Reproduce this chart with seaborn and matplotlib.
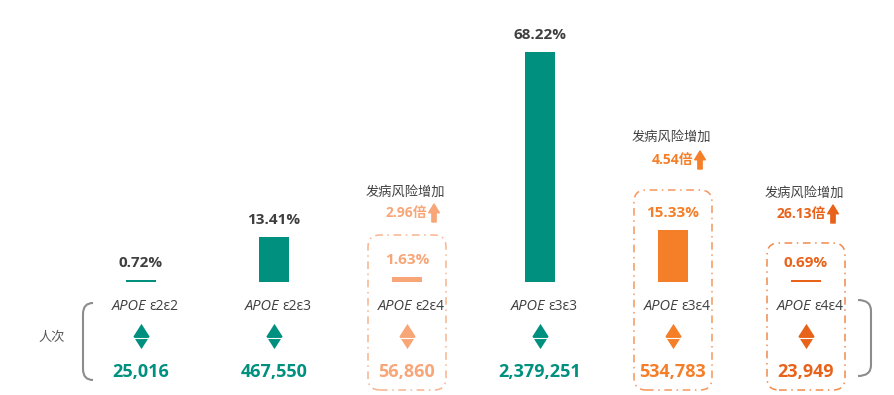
import numpy as np
import pandas as pd
import matplotlib
matplotlib.use('Agg')
import matplotlib.pyplot as plt
import seaborn as sns
from matplotlib import font_manager
from matplotlib.patches import FancyBboxPatch, PathPatch
from matplotlib.path import Path
from matplotlib.transforms import offset_copy

# data
genotypes = ['ε2ε2', 'ε2ε3', 'ε2ε4', 'ε3ε3', 'ε3ε4', 'ε4ε4']
share_pct = [0.72, 13.41, 1.63, 68.22, 15.33, 0.69]
person_counts = [25016, 467550, 56860, 2379251, 534783, 23949]
risk_fold = [None, None, 2.96, None, 4.54, 26.13]

colors = ['#00907F', '#00907F', '#F8A678', '#00907F', '#F57E28', '#E8621A']
box_colors = ['#F8B48E', '#F5975C', '#F08A4C']
pct_label_colors = ['#3F3F3F', '#3F3F3F', '#F8A678', '#3F3F3F', '#F57E28', '#E8621A']

df = pd.DataFrame({'genotype': genotypes, 'pct': share_pct})

sns.set_theme(style='white')
plt.rcParams['font.family'] = ['Open Sans', 'Noto Sans CJK SC', 'DejaVu Sans']

# pick a family that really has an italic face for "APOE"
italic_family = 'DejaVu Sans'
have_italic = {f.name for f in font_manager.fontManager.ttflist if f.style == 'italic'}
for cand in ['Open Sans', 'Noto Sans', 'Lato', 'Roboto', 'Liberation Sans']:
    if cand in have_italic:
        italic_family = cand
        break

W, H = 895, 395
fig = plt.figure(figsize=(W / 100, H / 100), dpi=100)
ax = fig.add_axes([0, 0, 1, 1])

sns.barplot(data=df, x='genotype', y='pct', hue='genotype', palette=dict(zip(genotypes, colors)),
            width=0.225, legend=False, ax=ax, saturation=1, linewidth=0)

ax.set_xlim(-141 / 133, (W - 141) / 133)
ax.set_ylim(-113 / 3.372, (H - 113) / 3.372)
ax.axis('off')

trans = ax.get_xaxis_transform()


def fy(py):
    return 1 - py / H


def px_x(i):
    return ax.transData.transform((i, 0))[0]


# percentage above bars
for i, v in enumerate(share_pct):
    ax.annotate(f'{v:.2f}%', xy=(i, v), xytext=(0, 17), textcoords='offset pixels',
                ha='center', va='center', fontsize=11, fontweight='bold', color=pct_label_colors[i])

# genotype labels, diamonds, counts
for i, g in enumerate(genotypes):
    ax.text(i, fy(307), 'APOE', transform=offset_copy(trans, fig=fig, x=5, y=0, units='dots'),
            ha='right', va='center', fontsize=10.5, style='italic', color='#404040',
            family=[italic_family])
    ax.text(i, fy(307), g, transform=offset_copy(trans, fig=fig, x=8, y=0, units='dots'),
            ha='left', va='center', fontsize=10, color='#404040')
    ax.scatter([i], [fy(336)], transform=trans, marker=[(-0.64, 0), (0, 1), (0.64, 0), (0, -1)],
               s=330, color=colors[i], linewidths=0, zorder=3)
    ax.scatter([i], [fy(337.5)], transform=trans, marker='_', s=160, color='white',
               linewidths=0.8, zorder=4)
    ax.text(i, fy(372), f'{person_counts[i]:,}', transform=trans, ha='center', va='center',
            fontsize=13, fontweight='bold', color=colors[i])

# risk annotations and dashed boxes
risk_title_y = {2: 192, 4: 137, 5: 193}
risk_val_y = {2: 213, 4: 160, 5: 214}
box_top = {2: 235, 4: 190, 5: 243}
k = 0
for i, r in enumerate(risk_fold):
    if r is None:
        continue
    ax.text(i, fy(risk_title_y[i]), '发病风险增加', transform=offset_copy(trans, fig=fig, x=-2, y=0, units='dots'),
            ha='center', va='center', fontsize=9.5, color='#404040')
    ax.text(i, fy(risk_val_y[i]), f'{r:.2f}倍', transform=offset_copy(trans, fig=fig, x=20, y=0, units='dots'),
            ha='right', va='center', fontsize=10, fontweight='bold', color=colors[i])
    ax.annotate('', xy=(i, fy(risk_val_y[i])), xycoords=offset_copy(trans, fig=fig, x=27, y=9, units='dots'),
                xytext=(i, fy(risk_val_y[i])), textcoords=offset_copy(trans, fig=fig, x=27, y=-9, units='dots'),
                arrowprops=dict(arrowstyle='simple,head_length=0.45,head_width=0.55,tail_width=0.22',
                                color=colors[i], shrinkA=0, shrinkB=0, mutation_scale=14))
    cx = px_x(i)
    bw = 78
    top = box_top[i]
    bottom = 390
    rr = 12
    box = FancyBboxPatch(((cx - bw / 2) / W, 1 - bottom / H), bw / W, (bottom - top) / H,
                         boxstyle=f'round,pad=0,rounding_size={rr / W}', mutation_aspect=W / H,
                         transform=fig.transFigure, fill=False, edgecolor=box_colors[k],
                         linewidth=1.1, linestyle=(0, (5, 3, 1, 3)))
    fig.add_artist(box)
    k += 1

# 人次 label and brackets
fig.text(52 / W, fy(337), '人次', ha='center', va='center', fontsize=9.5, color='#595959',
         family=['Noto Sans CJK SC'])


def bracket(pts):
    verts = [(x / W, 1 - y / H) for x, y in pts]
    codes = [Path.MOVETO, Path.CURVE3, Path.CURVE3, Path.LINETO, Path.CURVE3, Path.CURVE3]
    fig.add_artist(PathPatch(Path(verts, codes), transform=fig.transFigure, fill=False,
                             edgecolor='#8C8C8C', linewidth=1.5))


bracket([(93, 303), (83, 303), (83, 314), (83, 369), (83, 380), (93, 380)])
bracket([(858, 300), (871, 300), (871, 311), (871, 365), (871, 376), (858, 376)])

fig.savefig('out.png', dpi=100, facecolor='white')
